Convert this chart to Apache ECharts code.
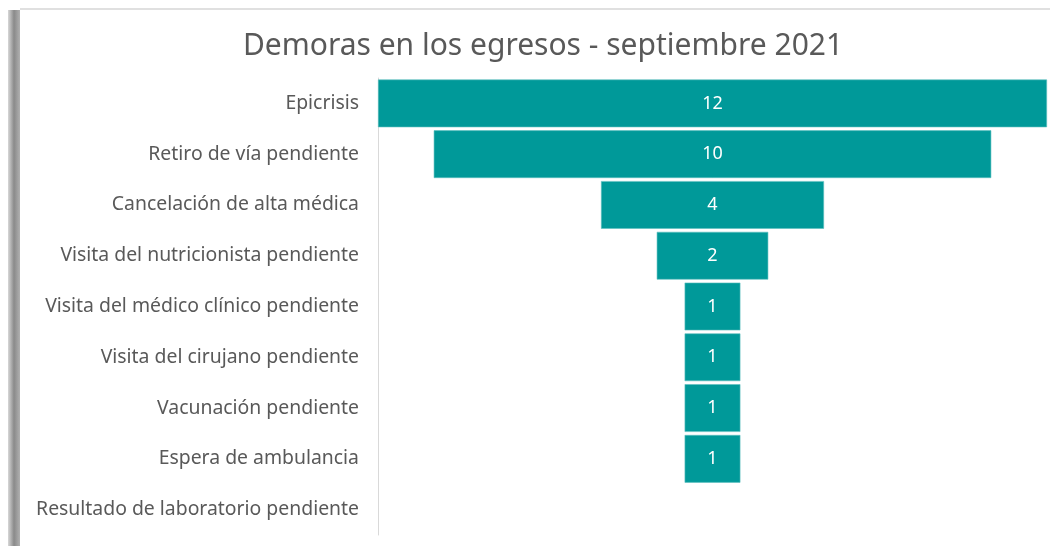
<!DOCTYPE html>
<html><head><meta charset="utf-8">
<script src="https://cdn.jsdelivr.net/npm/echarts@6/dist/echarts.min.js"></script>
<style>html,body{margin:0;padding:0;background:#fff}#c{width:1050px;height:546px}</style>
</head><body><div id="c"></div>
<script>
const categories = ["Epicrisis","Retiro de vía pendiente","Cancelación de alta médica","Visita del nutricionista pendiente","Visita del médico clínico pendiente","Visita del cirujano pendiente","Vacunación pendiente","Espera de ambulancia","Resultado de laboratorio pendiente"];
const values = [12,10,4,2,1,1,1,1,0];
const maxVal = Math.max(...values);
const offsets = values.map(v => (maxVal - v) / 2);

const chart = echarts.init(document.getElementById('c'), null, {renderer:'canvas'});
chart.setOption({
  backgroundColor:'#ffffff',
  animation:false,
  title:{text:'Demoras en los egresos - septiembre 2021', left:538, textAlign:'center', top:26,
    textStyle:{fontFamily:'Noto Sans', fontWeight:'normal', fontSize:30, color:'#595959'}},
  graphic:[
    {type:'rect', shape:{x:8,y:10,width:12,height:540}, style:{fill:new echarts.graphic.LinearGradient(0,0,1,0,[{offset:0,color:'#d8d8d8'},{offset:0.5,color:'#8a8a8a'},{offset:1,color:'#b0b0b0'}])}, silent:true},
    {type:'line', shape:{x1:20,y1:9,x2:1050,y2:9}, style:{stroke:'#e0e0e0', lineWidth:2}, silent:true}
  ],
  grid:{left:378, right:3, top:78, bottom:11, containLabel:false},
  xAxis:{type:'value', min:0, max:maxVal, show:false},
  yAxis:{type:'category', data:categories, inverse:true,
    axisLine:{show:true, lineStyle:{color:'#d9d9d9', width:1}},
    axisTick:{show:false},
    axisLabel:{fontFamily:'Noto Sans', fontSize:19.4, color:'#595959', margin:19, padding:[7,0,0,0]}},
  series:[
    {type:'bar', stack:'f', data:offsets, itemStyle:{color:'transparent'}, silent:true, barCategoryGap:'6%'},
    {type:'bar', stack:'f', data:values.map(v => v > 0 ? v : '-'), barCategoryGap:'6%',
      itemStyle:{color:'#009999', borderColor:'#5cc0c0', borderWidth:0.6},
      label:{show:true, position:'inside', color:'#ffffff', fontFamily:'Noto Sans', fontSize:18}}
  ]
});
</script></body></html>
